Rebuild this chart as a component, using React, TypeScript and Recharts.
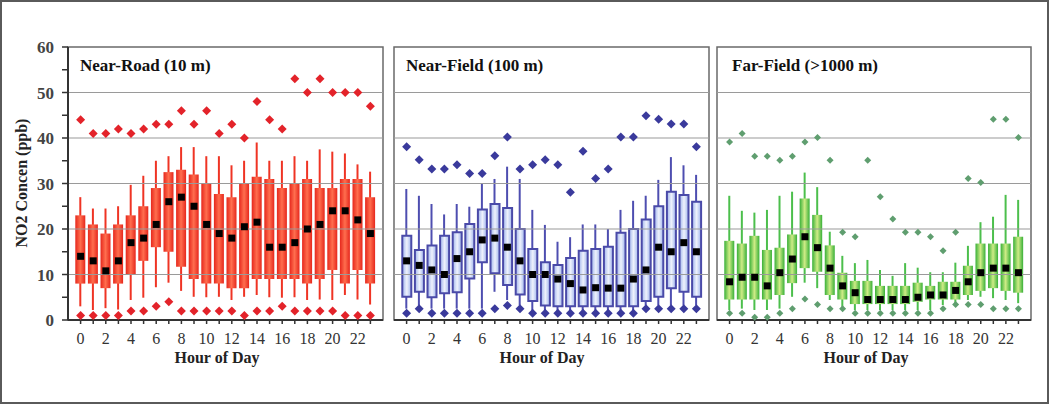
import React from "react";
import { ComposedChart, Bar, Scatter, XAxis, YAxis, ReferenceLine, ReferenceArea } from "recharts";

const FONT = "'Liberation Serif', 'Times New Roman', serif";

const HOURS = [0, 1, 2, 3, 4, 5, 6, 7, 8, 9, 10, 11, 12, 13, 14, 15, 16, 17, 18, 19, 20, 21, 22, 23];
const Y_TICKS = [0, 5, 10, 15, 20, 25, 30, 35, 40, 45, 50, 55, 60];
const GRID_LINES = [10, 20, 30, 40, 50];

// Near-Road (10 m)
const nearRoadMedian = [14, 13, 10.8, 13, 17, 18, 21, 26, 27, 25, 21, 19, 18, 20.5, 21.5, 16, 16, 17, 20, 21, 24, 24, 22, 19];
const nearRoadQ1 = [8, 8, 7, 8, 10, 13, 16, 15, 11.7, 9, 8, 8, 7, 7, 9, 9, 9, 9, 8, 9, 11, 8, 11, 8];
const nearRoadQ3 = [23, 21, 19, 21, 23, 25, 29, 32.5, 33, 32, 30, 27.7, 27, 30, 31.5, 31, 29, 30, 31, 29, 29, 31, 31, 27];
const nearRoadLow = [3, 2.2, 2.6, 2.3, 4.4, 4.9, 7.2, 8.2, 6.4, 5.1, 5, 5.1, 4.4, 5.1, 5.5, 5, 4.9, 5, 4.4, 4.5, 4.4, 5.5, 4.5, 3.4];
const nearRoadHigh = [27, 24.5, 24.5, 25, 29.7, 31.7, 35, 36, 38, 38, 36, 36, 34, 35, 39, 35, 35, 36, 35, 37.5, 37, 36.6, 34.2, 32.6];
const nearRoadOutHigh = [44, 41, 41, 42, 41, 42, 43, 43, 46, 43, 46, 41, 43, 40, 48, 44, 42, 53, 50, 53, 50, 50, 50, 47];
const nearRoadOutLow = [1, 1, 1, 1, 2, 2, 3, 4, 2, 2, 2, 2, 2, 1, 2, 2, 3, 2, 2, 2, 2, 1, 1, 1];

// Near-Field (100 m)
const nearFieldMedian = [13, 12, 11, 10, 13.5, 15, 17.6, 18, 16, 13, 10, 10, 9, 8, 6.6, 7.1, 7, 7, 9, 11, 16, 15, 17, 15];
const nearFieldQ1 = [5.1, 6.2, 5, 5.9, 6.1, 9.1, 12.7, 10.3, 7.7, 5.6, 4.2, 3.2, 3, 3, 3, 3, 3, 3, 3, 4.2, 5.1, 7, 6.2, 5.1];
const nearFieldQ3 = [18.5, 15.4, 16.4, 18.5, 19.3, 21.1, 24.3, 25.5, 24.6, 20, 15.6, 12.7, 12.1, 13.6, 15.2, 15.6, 16.1, 19.2, 20, 22.1, 25, 28.2, 27.5, 26];
const nearFieldLow = [2.5, 3.2, 2.5, 2.5, 2.5, 2.5, 2.5, 6.2, 4.4, 3.2, 2, 2, 2, 2, 2, 2, 2, 2, 2, 3.2, 3.2, 3.2, 3.2, 3.2];
const nearFieldHigh = [28.8, 27.3, 25.5, 23.2, 25.5, 24.9, 30, 31, 33.7, 31, 24.2, 20.9, 17.2, 18.2, 21, 21, 20, 24.2, 26.2, 27.3, 30.8, 35.8, 34, 31.9];
const nearFieldOutHigh = [38.1, 35.2, 33.2, 33.2, 34.1, 32.2, 32.2, 36.1, 40.2, 33.2, 34.1, 35.2, 34.1, 28.1, 37.1, 31.1, 33.2, 40.2, 40.2, 44.9, 44.1, 43.1, 43.1, 38.1];
const nearFieldOutLow = [1.5, 2.5, 1.5, 1.5, 1.5, 1.5, 1.5, 2.5, 3.2, 2.5, 1.5, 1.5, 1.5, 1.5, 1.5, 1.5, 1.5, 1.5, 1.5, 2.5, 2.5, 2.5, 2.5, 2.5];

// Far-Field (>1000 m)
const farFieldMedian = [8.4, 9.4, 9.4, 7.5, 10.4, 13.4, 18.3, 15.9, 11.4, 7.5, 6, 4.5, 4.5, 4.5, 4.5, 5, 5.5, 5.5, 6.5, 8.4, 10.4, 11.4, 11.4, 10.4];
const farFieldQ1 = [4.5, 4.5, 4.5, 4.5, 5.5, 8.1, 11.4, 10.6, 5.5, 4.5, 3.5, 3.5, 3.5, 3.5, 3.5, 4, 4.5, 4.5, 4.5, 5.5, 6.4, 7, 6.4, 6];
const farFieldQ3 = [17.4, 16.8, 18.5, 15.4, 15.9, 18.8, 26.7, 23.1, 16.4, 10.4, 8.6, 8.6, 7.5, 7.5, 7.5, 8.2, 7.5, 8.4, 8.4, 11.9, 16.8, 16.8, 16.8, 18.3];
const farFieldLow = [2.2, 2.5, 2.2, 2.2, 2.5, 5.1, 8.2, 7, 4.4, 2.9, 2.2, 2.2, 2.2, 2.2, 2.2, 2.2, 2.2, 3.3, 3.3, 4.4, 5.1, 4.8, 4.4, 3.7];
const farFieldHigh = [27.3, 24, 23.6, 24.2, 27.3, 28.2, 32.4, 29.2, 19.4, 14.1, 12.5, 13.2, 11, 9.7, 12.5, 11.5, 10.5, 10.5, 12.6, 16.3, 21.5, 22.7, 27.5, 26.4];
const farFieldOutHigh = [39.1, 41, 36, 36, 35.1, 36, 39.1, 40.1, 35.1, 19.3, 18.3, 35.1, 27.1, 22.2, 19.3, 19.3, 18.3, 15.2, 19.3, 31.1, 30.2, 44.1, 44.1, 40.1];
const farFieldOutLow = [1.5, 1.5, 0.6, 0.6, 1.5, 2.5, 4.6, 3.4, 2.5, 2.5, 1.5, 1.5, 1.5, 1.5, 1.5, 1.5, 1.5, 2.5, 3.4, 3.4, 3.4, 2.5, 2.5, 2.5];

const buildRows = (
  median: number[], q1: number[], q3: number[], low: number[], high: number[],
  outHigh: number[], outLow: number[]
) =>
  HOURS.map((hour, i) => ({
    hour,
    median: median[i],
    box: [q1[i], q3[i]],
    whisker: [low[i], high[i]],
    outHigh: outHigh[i],
    outLow: outLow[i],
  }));

const diamond = (r: number, color: string) => (props: any) => {
  const { cx, cy } = props;
  if (cx == null || cy == null) return <g />;
  return <path d={`M${cx},${cy - r}L${cx + r},${cy}L${cx},${cy + r}L${cx - r},${cy}Z`} fill={color} />;
};

const square = (props: any) => {
  const { cx, cy } = props;
  if (cx == null || cy == null) return <g />;
  return <rect x={cx - 3.5} y={cy - 3.5} width={7} height={7} fill="#000" />;
};

interface PanelProps {
  id: string;
  rows: ReturnType<typeof buildRows>;
  width: number;
  marginLeft: number;
  marginRight: number;
  showY: boolean;
  edge: string;
  center: string;
  boxStroke?: string;
  whiskerColor: string;
  outlierColor: string;
  outlierSize: number;
  boxWidth: number;
}

const Panel: React.FC<PanelProps> = (p) => (
  <ComposedChart
    width={p.width}
    height={405}
    data={p.rows}
    margin={{ top: 47, right: p.marginRight, bottom: 55, left: p.marginLeft }}
  >
    <defs>
      <linearGradient id={`grad-${p.id}`} x1="0" y1="0" x2="1" y2="0">
        <stop offset="0%" stopColor={p.edge} />
        <stop offset="50%" stopColor={p.center} />
        <stop offset="100%" stopColor={p.edge} />
      </linearGradient>
    </defs>
    <XAxis
      dataKey="hour"
      type="number"
      domain={[-1, 24]}
      ticks={HOURS}
      interval={0}
      tickFormatter={(v: number) => (v % 2 === 0 ? String(v) : "")}
      tickSize={4}
      tickMargin={9}
      height={30}
      axisLine={{ stroke: "#333", strokeWidth: 2 }}
      tickLine={{ stroke: "#333", strokeWidth: 1.5 }}
      tick={{ fill: "#333", fontSize: 16, fontFamily: FONT }}
    />
    <XAxis xAxisId="w" dataKey="hour" type="number" domain={[-1, 24]} ticks={HOURS} hide />
    <XAxis xAxisId="b" dataKey="hour" type="number" domain={[-1, 24]} ticks={HOURS} hide />
    <YAxis
      type="number"
      domain={[0, 60]}
      ticks={Y_TICKS}
      interval={0}
      hide={!p.showY}
      width={68}
      tickFormatter={(v: number) => (v % 10 === 0 ? String(v) : "")}
      tickSize={6}
      tickMargin={8}
      axisLine={{ stroke: "#333", strokeWidth: 2 }}
      tickLine={{ stroke: "#333", strokeWidth: 1.5 }}
      tick={{ fill: "#444", fontSize: 17, fontWeight: "bold", fontFamily: FONT }}
    />
    {GRID_LINES.map((g) => (
      <ReferenceLine key={g} y={g} stroke="#9a9a9a" strokeWidth={1.2} />
    ))}
    <ReferenceArea x1={-1} x2={24} y1={0} y2={60} fill="none" stroke="#6a6a6a" strokeWidth={1.5} />
    <Bar
      xAxisId="w"
      dataKey="whisker"
      barSize={2}
      fill={p.whiskerColor}
      isAnimationActive={false}
    />
    <Bar
      xAxisId="b"
      dataKey="box"
      barSize={p.boxWidth}
      fill={`url(#grad-${p.id})`}
      stroke={p.boxStroke ?? "none"}
      strokeWidth={p.boxStroke ? 2 : 0}
      isAnimationActive={false}
    />
    <Scatter dataKey="outHigh" shape={diamond(p.outlierSize, p.outlierColor)} isAnimationActive={false} />
    <Scatter dataKey="outLow" shape={diamond(p.outlierSize, p.outlierColor)} isAnimationActive={false} />
    <Scatter dataKey="median" shape={square} isAnimationActive={false} />
  </ComposedChart>
);

const nearRoadRows = buildRows(nearRoadMedian, nearRoadQ1, nearRoadQ3, nearRoadLow, nearRoadHigh, nearRoadOutHigh, nearRoadOutLow);
const nearFieldRows = buildRows(nearFieldMedian, nearFieldQ1, nearFieldQ3, nearFieldLow, nearFieldHigh, nearFieldOutHigh, nearFieldOutLow);
const farFieldRows = buildRows(farFieldMedian, farFieldQ1, farFieldQ3, farFieldLow, farFieldHigh, farFieldOutHigh, farFieldOutLow);

const titleStyle: React.CSSProperties = {
  position: "absolute",
  top: 57,
  fontFamily: FONT,
  fontWeight: "bold",
  fontSize: 17,
  lineHeight: 1,
  color: "#111",
  whiteSpace: "nowrap",
};

const xLabelStyle: React.CSSProperties = {
  position: "absolute",
  top: 350,
  width: 200,
  textAlign: "center",
  fontFamily: FONT,
  fontWeight: "bold",
  fontSize: 16,
  lineHeight: 1,
  color: "#222",
};

export default function App() {
  return (
    <div style={{ position: "absolute", left: 0, top: 0, width: 1050, height: 405, background: "#fff", overflow: "hidden" }}>
      <div style={{ position: "absolute", left: 0, top: 0 }}>
        <Panel
          id="road" rows={nearRoadRows} width={390} marginLeft={0} marginRight={7} showY
          edge="#e6271c" center="#ff6e4e" whiskerColor="#ef3424" outlierColor="#e3232a" outlierSize={4.5} boxWidth={10}
        />
      </div>
      <div style={{ position: "absolute", left: 390, top: 0 }}>
        <Panel
          id="near" rows={nearFieldRows} width={324} marginLeft={4} marginRight={5} showY={false}
          edge="#9fb3ec" center="#eef2fc" boxStroke="#4a4aa8" whiskerColor="#4e4eb0" outlierColor="#3a3a9c" outlierSize={4.5} boxWidth={9}
        />
      </div>
      <div style={{ position: "absolute", left: 713, top: 0 }}>
        <Panel
          id="far" rows={farFieldRows} width={330} marginLeft={4} marginRight={12} showY={false}
          edge="#38b038" center="#cfec86" whiskerColor="#4cbf4c" outlierColor="#5f9e6f" outlierSize={3.5} boxWidth={10}
        />
      </div>

      <div style={{ ...titleStyle, left: 80 }}>Near-Road (10 m)</div>
      <div style={{ ...titleStyle, left: 406 }}>Near-Field (100 m)</div>
      <div style={{ ...titleStyle, left: 732 }}>Far-Field (&gt;1000 m)</div>

      <div style={{ ...xLabelStyle, left: 117 }}>Hour of Day</div>
      <div style={{ ...xLabelStyle, left: 442 }}>Hour of Day</div>
      <div style={{ ...xLabelStyle, left: 766 }}>Hour of Day</div>

      <div
        style={{
          position: "absolute",
          left: 22,
          top: 183,
          transform: "translate(-50%, -50%) rotate(-90deg)",
          fontFamily: FONT,
          fontWeight: "bold",
          fontSize: 16,
          lineHeight: 1,
          color: "#222",
          whiteSpace: "nowrap",
        }}
      >
        NO2 Concen (ppb)
      </div>

      <div
        style={{
          position: "absolute",
          left: 0,
          top: 0,
          width: 1049,
          height: 404,
          boxSizing: "border-box",
          border: "2px solid #5a5a5a",
          pointerEvents: "none",
        }}
      />
    </div>
  );
}
